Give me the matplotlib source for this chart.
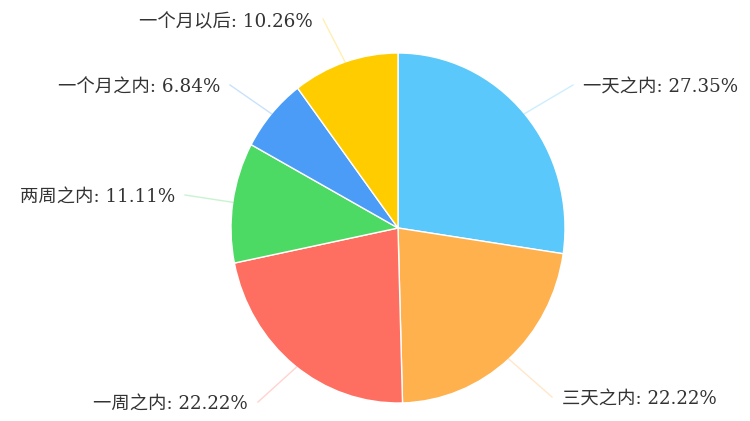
import numpy as np
import matplotlib.pyplot as plt

plt.rcParams['font.family'] = ['DejaVu Serif', 'Noto Sans CJK SC']

labels = ["一天之内", "三天之内", "一周之内", "两周之内", "一个月之内", "一个月以后"]
shares = [27.35, 22.22, 22.22, 11.11, 6.84, 10.26]
colors = ["#5AC8FA", "#FFB14E", "#FF6F61", "#4CD964", "#4B9CF6", "#FFCC00"]

# pie centre and radii in pixels (the reference is slightly squashed)
cx, cy, rx, ry = 398, 228, 167, 175

# label text anchors (pixels) and angle override for leader start
label_pos = [(583, 88, 'left'), (562, 400, 'left'), (248, 405, 'right'),
             (175, 198, 'right'), (220, 88, 'right'), (313, 22, 'right')]
angle_override = {2: 232.6}


def to_data(x, y):
    return (x - cx) / rx, (cy - y) / ry


fig = plt.figure(figsize=(7.5, 4.21), dpi=100)
ax = fig.add_axes([0, 0, 1, 1])
wedges, _ = ax.pie(shares, colors=colors, startangle=90, counterclock=False,
                   wedgeprops=dict(edgecolor='white', linewidth=1))
ax.set_aspect('auto')
ax.set_xlim(-cx / rx, (750 - cx) / rx)
ax.set_ylim(-(421 - cy) / ry, cy / ry)
ax.axis('off')

for i, w in enumerate(wedges):
    ang = angle_override.get(i, (w.theta1 + w.theta2) / 2)
    a = np.deg2rad(ang)
    x0, y0 = np.cos(a), np.sin(a)
    tx, ty, ha = label_pos[i]
    lx, ly = to_data(tx + (-10 if ha == 'left' else 10), ty - 3)
    ax.plot([x0, lx], [y0, ly], color=colors[i], alpha=0.3, lw=1)
    px, py = to_data(tx, ty)
    ax.text(px, py, f"{labels[i]}: {shares[i]:.2f}%", ha=ha, va='center',
            fontsize=13.2, color='#333333')

fig.savefig('out.png', dpi=100)
